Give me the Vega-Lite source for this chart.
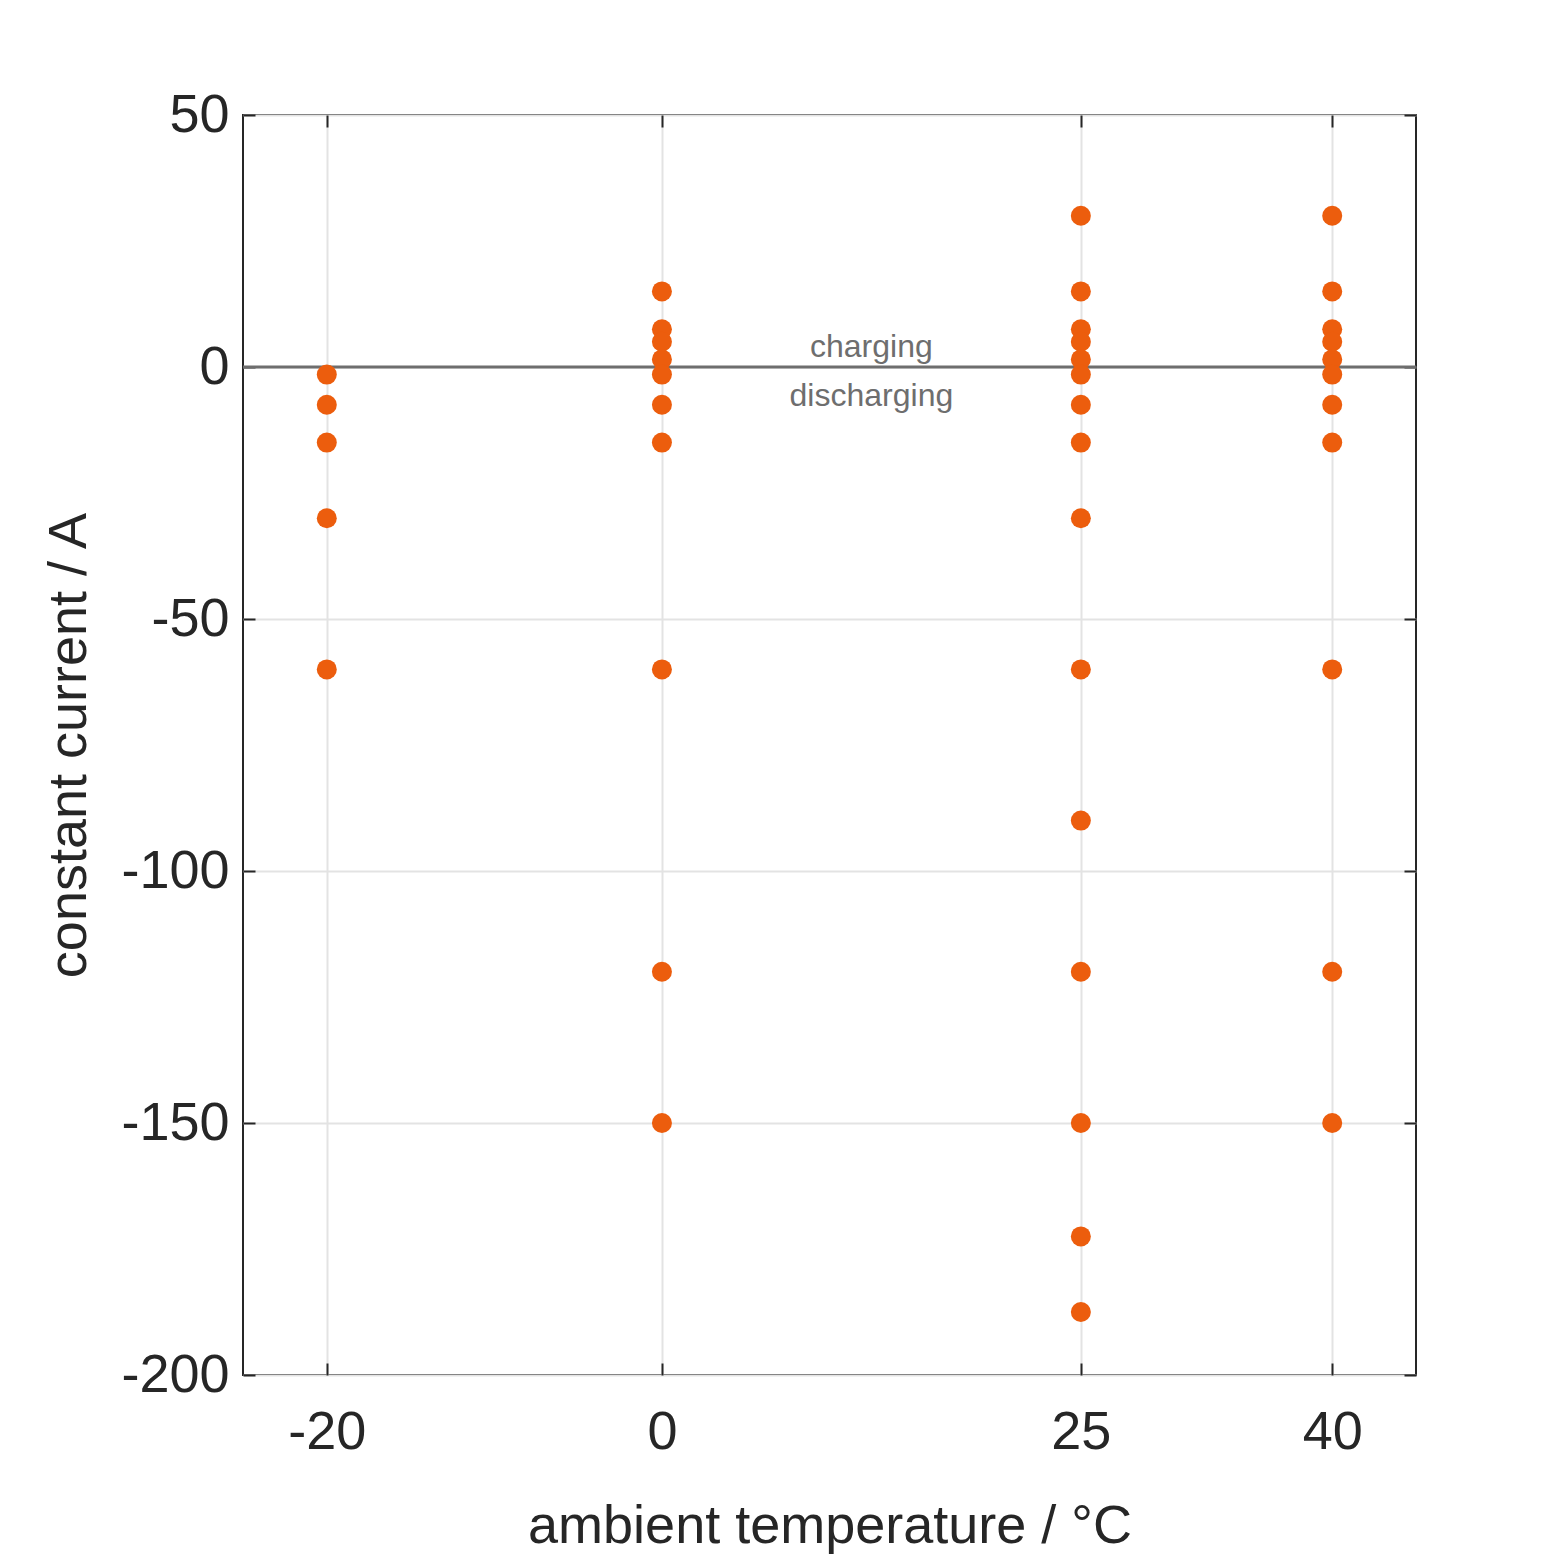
{
"$schema":"https://vega.github.io/schema/vega-lite/v6.json",
"width":1173,"height":1260,
"autosize":{"type":"none"},
"padding":{"left":243,"top":115,"right":147,"bottom":188},
"background":"white",
"config":{"view":{"stroke":"#262626","strokeWidth":2},"font":"Liberation Sans"},
"datasets":{
"pts":[
{"t":-20,"i":-1.5},{"t":-20,"i":-7.5},{"t":-20,"i":-15},{"t":-20,"i":-30},{"t":-20,"i":-60},
{"t":0,"i":15},{"t":0,"i":7.5},{"t":0,"i":5},{"t":0,"i":1.5},{"t":0,"i":-1.5},{"t":0,"i":-7.5},{"t":0,"i":-15},{"t":0,"i":-60},{"t":0,"i":-120},{"t":0,"i":-150},
{"t":25,"i":30},{"t":25,"i":15},{"t":25,"i":7.5},{"t":25,"i":5},{"t":25,"i":1.5},{"t":25,"i":-1.5},{"t":25,"i":-7.5},{"t":25,"i":-15},{"t":25,"i":-30},{"t":25,"i":-60},{"t":25,"i":-90},{"t":25,"i":-120},{"t":25,"i":-150},{"t":25,"i":-172.5},{"t":25,"i":-187.5},
{"t":40,"i":30},{"t":40,"i":15},{"t":40,"i":7.5},{"t":40,"i":5},{"t":40,"i":1.5},{"t":40,"i":-1.5},{"t":40,"i":-7.5},{"t":40,"i":-15},{"t":40,"i":-60},{"t":40,"i":-120},{"t":40,"i":-150}
],
"labels":[{"t":12.5,"i":4,"txt":"charging"},{"t":12.5,"i":-5.8,"txt":"discharging"}]
},
"resolve":{"scale":{"x":"independent","y":"independent"},"axis":{"x":"independent","y":"independent"}},
"layer":[
{"data":{"name":"pts"},"mark":{"type":"point","opacity":0},
"encoding":{
"x":{"field":"t","type":"quantitative","scale":{"domain":[-25,45],"nice":false},"axis":{"orient":"top","values":[-20,0,25,40],"labels":false,"grid":false,"tickSize":-12,"tickColor":"#262626","tickWidth":2,"domain":false,"title":null}},
"y":{"field":"i","type":"quantitative","scale":{"domain":[-200,50],"nice":false},"axis":{"orient":"right","values":[-200,-150,-100,-50,0,50],"labels":false,"grid":false,"tickSize":-12,"tickColor":"#262626","tickWidth":2,"domain":false,"title":null}}}},
{"layer":[
{"data":{"values":[{"z":0}]},"mark":{"type":"rule","color":"#6e6e6e","strokeWidth":3},"encoding":{"y":{"field":"z","type":"quantitative"}}},
{"data":{"name":"pts"},"mark":{"type":"circle","size":400,"color":"#EC5D0D","opacity":1},
"encoding":{"x":{"field":"t","type":"quantitative"},"y":{"field":"i","type":"quantitative"}}},
{"data":{"name":"labels"},"mark":{"type":"text","fontSize":32,"color":"#6e6e6e","align":"center","baseline":"middle"},
"encoding":{"x":{"field":"t","type":"quantitative"},"y":{"field":"i","type":"quantitative"},"text":{"field":"txt"}}}
],
"encoding":{
"x":{"type":"quantitative","scale":{"domain":[-25,45],"nice":false},"axis":{"values":[-20,0,25,40],"labelExpr":"''+datum.value","grid":true,"gridColor":"#e3e3e3","gridWidth":2,"tickSize":-12,"tickColor":"#262626","tickWidth":2,"domain":false,"labelFontSize":54,"labelColor":"#262626","labelPadding":42,"title":"ambient temperature / °C","titleFontSize":54,"titleFontWeight":"normal","titleColor":"#262626","titlePadding":40}},
"y":{"type":"quantitative","scale":{"domain":[-200,50],"nice":false},"axis":{"values":[-200,-150,-100,-50,0,50],"labelExpr":"''+datum.value","grid":true,"gridColor":"#e3e3e3","gridWidth":2,"tickSize":-12,"tickColor":"#262626","tickWidth":2,"domain":false,"labelFontSize":54,"labelColor":"#262626","labelPadding":26,"title":"constant current / A","titleFontSize":54,"titleFontWeight":"normal","titleColor":"#262626","titlePadding":24}}
}}
]
}
